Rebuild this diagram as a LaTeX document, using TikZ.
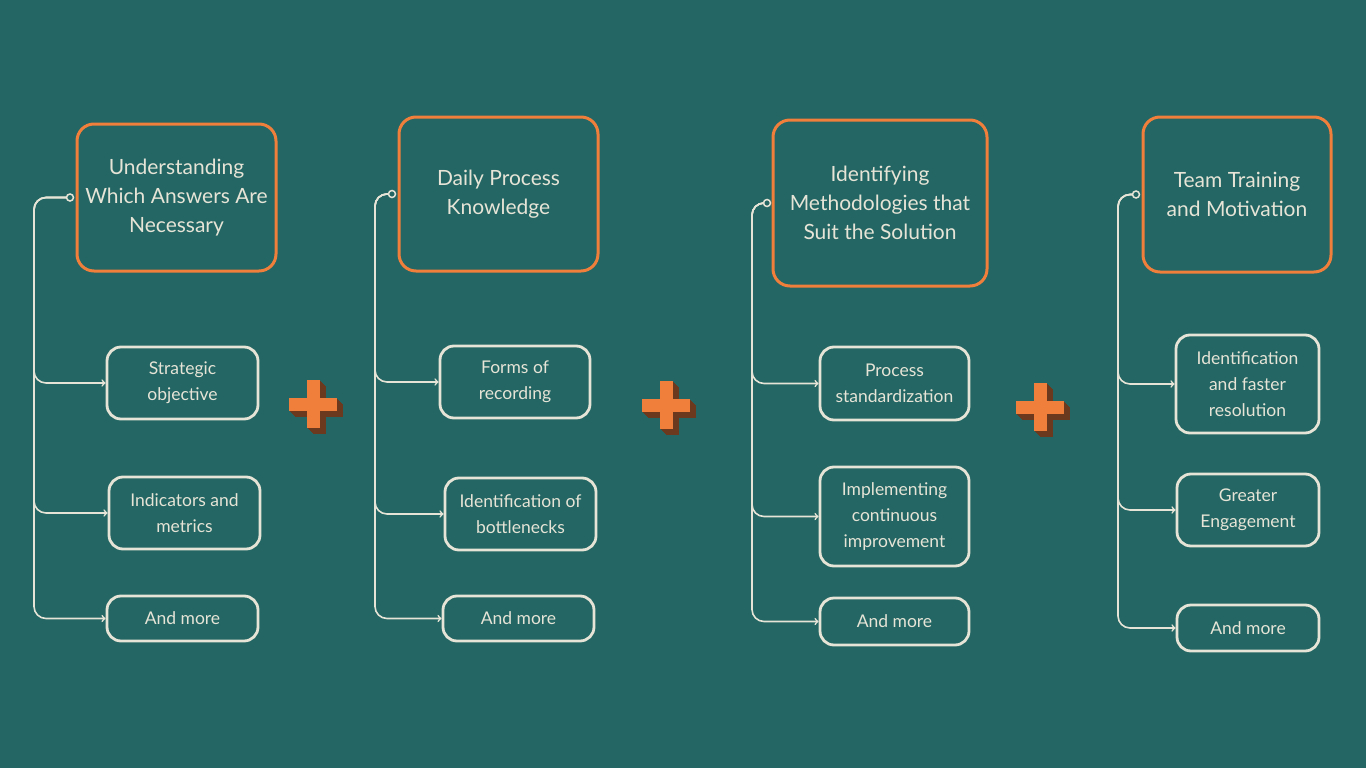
\documentclass[tikz,border=0pt]{standalone}
\usepackage{fontspec}
\setmainfont{Lato}
\usetikzlibrary{arrows,positioning}
\definecolor{bg}{HTML}{236664}
\definecolor{orng}{HTML}{F07F3C}
\definecolor{crm}{HTML}{E6E4D6}
\definecolor{shdw}{HTML}{6B3A1E}

\begin{document}
\begin{tikzpicture}[x=1pt,y=-1pt,>=to,
    header/.style={draw=orng,line width=3pt,rounded corners=17pt,text=crm,
                   align=center,font=\fontsize{21}{29}\selectfont,inner sep=0pt},
    item/.style={draw=crm,line width=2.8pt,rounded corners=14pt,text=crm,
                 align=center,font=\fontsize{17.5}{26}\selectfont,inner sep=0pt},
    dot/.style={circle,draw=crm,fill=bg,line width=1.5pt,inner sep=0pt,minimum size=7pt},
    link/.style={draw=crm,line width=1.6pt,rounded corners=12pt}]

 \fill[bg] (0,0) rectangle (1366,768);
 \useasboundingbox (0,0) rectangle (1366,768);

 % column 1
 \node[header,minimum width=199pt,minimum height=147pt] (h1) at (176.5,197.5)
      {Understanding\\Which Answers Are\\Necessary};
 \node[dot] (d1) at (70,197.5) {};
 \coordinate (s1) at (34,197.5);
 \node[item,minimum width=151pt,minimum height=72pt] (a1) at (182.5,383) {Strategic\\objective};
 \node[item,minimum width=151pt,minimum height=72pt] (b1) at (184.5,513) {Indicators and\\metrics};
 \node[item,minimum width=151pt,minimum height=45pt] (c1) at (182.5,618.5) {And more};

 % column 2
 \node[header,minimum width=199pt,minimum height=154pt] (h2) at (498.5,194)
      {Daily Process\\Knowledge};
 \node[dot] (d2) at (392,194) {};
 \coordinate (s2) at (375,194);
 \node[item,minimum width=150pt,minimum height=72pt] (a2) at (515,382) {Forms of\\recording};
 \node[item,minimum width=151pt,minimum height=72pt] (b2) at (520.5,514) {Identification of\\bottlenecks};
 \node[item,minimum width=151pt,minimum height=45pt] (c2) at (518.5,618.5) {And more};

 % column 3
 \node[header,minimum width=214pt,minimum height=166pt] (h3) at (880,203)
      {Identifying\\Methodologies that\\Suit the Solution};
 \node[dot] (d3) at (767,203) {};
 \coordinate (s3) at (752,203);
 \node[item,minimum width=149pt,minimum height=73pt] (a3) at (894.5,383.5) {Process\\standardization};
 \node[item,minimum width=149pt,minimum height=99pt] (b3) at (894.5,516.5)
      {Implementing\\continuous\\improvement};
 \node[item,minimum width=149pt,minimum height=47pt] (c3) at (894.5,621.5) {And more};

 % column 4
 \node[header,minimum width=188pt,minimum height=155pt] (h4) at (1237,194.5)
      {Team Training\\and Motivation};
 \node[dot] (d4) at (1136,194.5) {};
 \coordinate (s4) at (1118,194.5);
 \node[item,minimum width=143pt,minimum height=98pt] (a4) at (1247.5,384)
      {Identification\\and faster\\resolution};
 \node[item,minimum width=142pt,minimum height=72pt] (b4) at (1248,510) {Greater\\Engagement};
 \node[item,minimum width=142pt,minimum height=46pt] (c4) at (1248,628) {And more};

 % connectors
 \foreach \i in {1,2,3,4}
   \foreach \k in {a,b,c}
     \draw[link,->] (d\i.west) -- (s\i) |- (\k\i.west);

 % plus signs
 \foreach \px/\py [count=\n] in {313/404,666/405,1040/407}{
   \foreach \o in {1,...,6}{
     \fill[shdw] (\px-24+\o,\py-6.5+\o) rectangle (\px+24+\o,\py+6.5+\o);
     \fill[shdw] (\px-6.5+\o,\py-24+\o) rectangle (\px+6.5+\o,\py+24+\o);
   }
   \fill[orng] (\px-24,\py-6.5) rectangle (\px+24,\py+6.5);
   \fill[orng] (\px-6.5,\py-24) rectangle (\px+6.5,\py+24);
 }

\end{tikzpicture}
\end{document}
